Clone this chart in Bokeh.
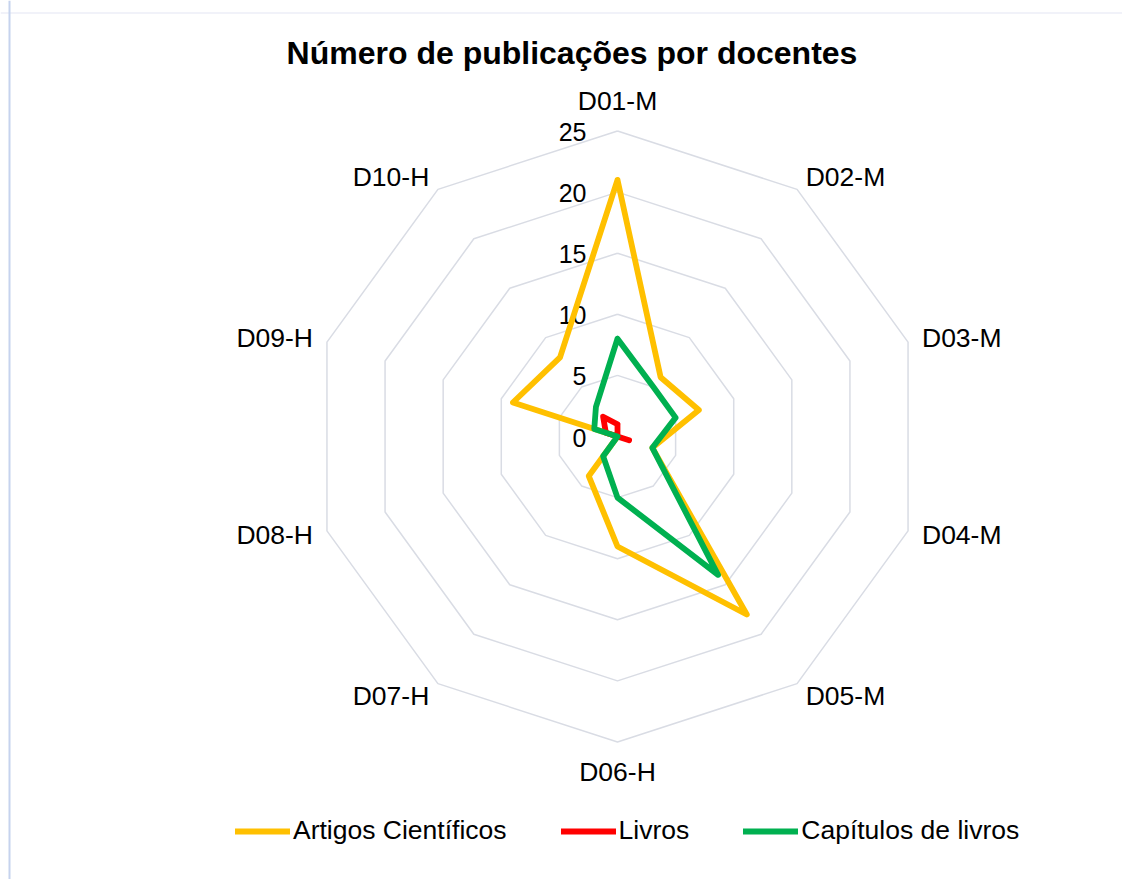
import numpy as np
from bokeh.plotting import figure
from bokeh.models import Range1d, Legend, LegendItem, Label, Span
from bokeh.core.properties import value
from bokeh.embed import file_html
from bokeh.resources import INLINE

categories = ["D01-M", "D02-M", "D03-M", "D04-M", "D05-M",
              "D06-H", "D07-H", "D08-H", "D09-H", "D10-H"]
artigos = [21, 6, 7, 3, 18, 9, 4, 0, 9, 8]
livros = [1, 0, 0, 1, 0, 0, 0, 0, 1, 2]
capitulos = [8, 5, 5, 3, 14, 5, 2, 0, 2, 3]
ticks = [0, 5, 10, 15, 20, 25]
series_names = ["Artigos Científicos", "Livros", "Capítulos de livros"]
colors = ["#FFC000", "#FF0000", "#00B050"]
title_text = "Número de publicações por docentes"

FONT_NAME = "Liberation Sans"
FONT = value(FONT_NAME)
W, H = 1122, 879
S = 12.22          # pixels per unit
cx, cy = 617, 436  # chart centre in canvas pixels

p = figure(width=W, height=H, output_backend="svg", toolbar_location=None,
           x_axis_type=None, y_axis_type=None,
           x_range=Range1d(-cx / S, (W - cx) / S),
           y_range=Range1d(-(H - cy) / S, cy / S),
           min_border=0, outline_line_color=None)
p.xgrid.visible = False
p.ygrid.visible = False

n = len(categories)
ang = np.deg2rad(90 - 360.0 / n * np.arange(n))
ang_c = np.append(ang, ang[0])

# grid rings
ring_xs = [list(t * np.cos(ang_c)) for t in ticks if t > 0]
ring_ys = [list(t * np.sin(ang_c)) for t in ticks if t > 0]
p.multi_line(ring_xs, ring_ys, line_color="#d9dce4", line_width=1.5)

# tick labels
p.text(x=[0] * len(ticks), y=ticks, text=[str(t) for t in ticks],
       x_offset=-31, y_offset=1, text_align="right", text_baseline="middle",
       text_font=FONT, text_font_size="25px", text_color="#000000")

# series
renderers = []
for vals, col in zip([artigos, livros, capitulos], colors):
    r = np.array(vals + [vals[0]], dtype=float)
    rr = p.line(r * np.cos(ang_c), r * np.sin(ang_c), line_color=col,
                line_width=5.8, line_join="round", line_cap="round")
    renderers.append(rr)

# category labels
RL = 26.2
lx = RL * np.cos(ang)
ly = RL * np.sin(ang)
groups = [([0], "center", "bottom"), ([n // 2], "center", "top"),
          (list(range(1, n // 2)), "left", "middle"),
          (list(range(n // 2 + 1, n)), "right", "middle")]
for idx, al, bl in groups:
    p.text(x=[lx[i] for i in idx], y=[ly[i] for i in idx],
           text=[categories[i] for i in idx], text_align=al, text_baseline=bl,
           text_font=FONT, text_font_size="26.5px", text_color="#000000")

legend = Legend(items=[LegendItem(label=nm, renderers=[rr])
                       for nm, rr in zip(series_names, renderers)],
                orientation="horizontal", location=(235, 33),
                glyph_width=55, glyph_height=30, label_height=30,
                label_standoff=3, spacing=54, padding=0, margin=0,
                border_line_color=None, background_fill_alpha=0,
                label_text_font=FONT_NAME, label_text_font_size="26.5px",
                label_text_color="#000000")
p.add_layout(legend)

p.add_layout(Label(x=571.5, y=H - 52, x_units="screen", y_units="screen",
                   text=title_text, text_align="center", text_baseline="middle",
                   text_font=FONT_NAME, text_font_size="32px",
                   text_font_style="bold", text_color="#000000"))

p.add_layout(Span(location=H - 12.5, location_units="screen", dimension="width",
                  line_color="#eceef7", line_width=1.5))
p.add_layout(Span(location=9, location_units="screen", dimension="height",
                  line_color="#c6d3ee", line_width=2))

open("out.html", "w").write(file_html(p, INLINE))
